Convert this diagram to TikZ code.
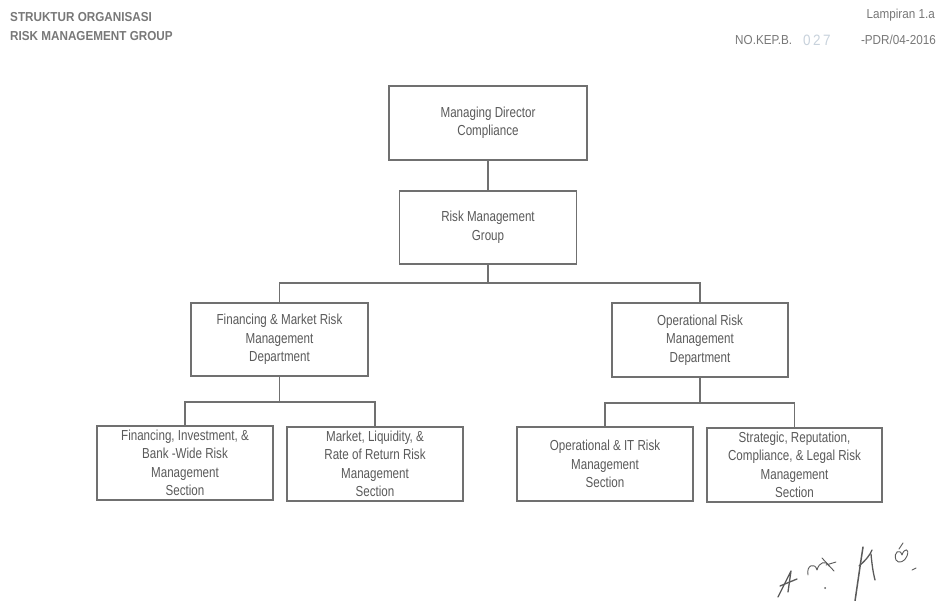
\documentclass[tikz,border=0pt]{standalone}
\usepackage{fontspec}
\setmainfont[FakeStretch=0.8]{Liberation Sans}
\newfontfamily\hdrfont[FakeStretch=0.9]{Liberation Sans}
\definecolor{boxline}{RGB}{112,112,112}
\definecolor{boxtext}{RGB}{90,90,90}
\definecolor{hdrtext}{RGB}{120,120,120}
\definecolor{stamp}{RGB}{200,210,220}
\definecolor{ink}{RGB}{90,90,90}
\begin{document}
\begin{tikzpicture}[x=1pt,y=-1pt,
  orgbox/.style={draw=boxline,line width=1.1pt,inner sep=0pt,align=center,
    text=boxtext,font=\fontsize{14.5}{18.5}\selectfont,
    minimum width=176pt,minimum height=74pt},
  conn/.style={draw=boxline,line width=1.1pt},
  hdr/.style={text=hdrtext,inner sep=0pt,font=\hdrfont\fontsize{13}{16}\selectfont},
  sig/.style={draw=ink,line width=1.3pt,line cap=round,line join=round}]
\useasboundingbox (0,0) rectangle (939,601);
\fill[white] (0,0) rectangle (939,601);

% header
\node[hdr,anchor=west,font=\hdrfont\bfseries\fontsize{13}{16}\selectfont] (h1) at (10,17) {STRUKTUR ORGANISASI};
\node[hdr,anchor=west,font=\hdrfont\bfseries\fontsize{13}{16}\selectfont] (h2) at (10,36) {RISK MANAGEMENT GROUP};
\node[hdr,anchor=east] (h3) at (935,15) {Lampiran 1.a};
\node[hdr,anchor=east] (h4) at (936,40) {-PDR/04-2016};
\node[hdr,anchor=west] (h5) at (735,40) {NO.KEP.B.};
\node[hdr,anchor=west,text=stamp,font=\hdrfont\fontsize{15}{16}\selectfont] (h6) at (803,40) {0\,2\,7};

% boxes
\node[orgbox,minimum width=198pt] (md) at (488,123) {Managing Director\\Compliance};
\node[orgbox,minimum width=177pt,minimum height=73pt] (rmg) at (488,227.5) {Risk Management\\Group};
\node[orgbox,minimum width=177pt,minimum height=73pt] (d1) at (279.5,339.5) {Financing \& Market Risk\\Management\\Department};
\node[orgbox] (d2) at (700,340) {Operational Risk\\Management\\Department};
\node[orgbox] (l1) at (185,463) {Financing, Investment, \&\\Bank -Wide Risk\\Management\\Section};
\node[orgbox] (l2) at (375,464) {Market, Liquidity, \&\\Rate of Return Risk\\Management\\Section};
\node[orgbox] (r1) at (605,464) {Operational \& IT Risk\\Management\\Section};
\node[orgbox,minimum width=175pt] (r2) at (794.5,465) {Strategic, Reputation,\\Compliance, \& Legal Risk\\Management\\Section};

% buses
\coordinate (bus1) at (0,283);
\coordinate (bus2) at (0,402);
\coordinate (bus3) at (0,403);

% connectors
\draw[conn] (md.south) -- (rmg.north);
\draw[conn] (rmg.south) -- (rmg.south |- bus1);
\draw[conn] (d1.north) -- (d1.north |- bus1) -- (d2.north |- bus1) -- (d2.north);
\draw[conn] (d1.south) -- (d1.south |- bus2);
\draw[conn] (l1.north) -- (l1.north |- bus2) -- (l2.north |- bus2) -- (l2.north);
\draw[conn] (d2.south) -- (d2.south |- bus3);
\draw[conn] (r1.north) -- (r1.north |- bus3) -- (r2.north |- bus3) -- (r2.north);

% signature
\draw[sig] (778,597) -- (791,571) -- (788,592);
\draw[sig] (780,586) -- (797,579);
\draw[sig,line width=0.9pt] (808,575) .. controls (806,565) and (815,562) .. (817,570) .. controls (819,562) and (826,560) .. (829,566);
\draw[sig,line width=0.9pt] (822,558) -- (834,571);
\draw[sig,line width=0.9pt] (826,565) -- (836,562);
\fill[ink] (825,588) circle (1pt);
\draw[sig,line width=1.5pt] (855,601) -- (861,560) -- (863,547);
\draw[sig] (859,566) .. controls (866,560) and (870,555) .. (872,550);
\draw[sig] (871,554) .. controls (872,565) and (873,572) .. (875,580);
\draw[sig,line width=0.9pt] (896,560) .. controls (893,552) and (900,548) .. (902,555) .. controls (904,548) and (910,548) .. (907,556) .. controls (905,562) and (898,564) .. (896,560);
\draw[sig,line width=0.9pt] (899,549) -- (903,543);
\draw[sig,line width=0.9pt] (912,570) -- (916,568);
\end{tikzpicture}
\end{document}
